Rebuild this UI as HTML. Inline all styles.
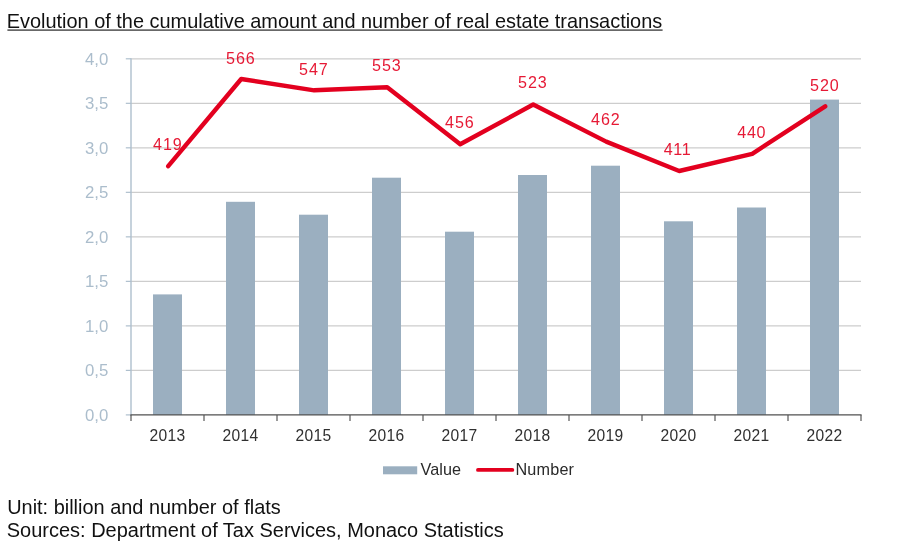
<!DOCTYPE html>
<html lang="en">
<head>
<meta charset="utf-8">
<title>Evolution of the cumulative amount and number of real estate transactions</title>
<style>
html,body{margin:0;padding:0;background:#fff;}
body{width:900px;height:560px;overflow:hidden;position:relative;font-family:"Liberation Sans",sans-serif;}
svg{position:absolute;left:0;top:0;display:block;}
text{font-family:"Liberation Sans",sans-serif;}
.ttl{font-size:19.93px;fill:#111;}
.yl{font-size:16.8px;fill:#abbdcc;}
.xl{font-size:15.6px;fill:#303030;}
.dl{font-size:16.1px;fill:#e3001f;fill-opacity:0.9;}
.lg{font-size:16.2px;fill:#2a2a2a;}
</style>
</head>
<body>
<svg width="900" height="560" viewBox="0 0 900 560">
<rect x="0" y="0" width="900" height="560" fill="#ffffff"/>
<text class="ttl" x="6.65" y="28.4">Evolution of the cumulative amount and number of real estate transactions</text>
<rect x="7.4" y="29.4" width="655.2" height="1.4" fill="#444"/>
<line x1="131.0" y1="370.39" x2="861.0" y2="370.39" stroke="#cdcdcd" stroke-width="1.25"/>
<line x1="131.0" y1="325.88" x2="861.0" y2="325.88" stroke="#cdcdcd" stroke-width="1.25"/>
<line x1="131.0" y1="281.36" x2="861.0" y2="281.36" stroke="#cdcdcd" stroke-width="1.25"/>
<line x1="131.0" y1="236.85" x2="861.0" y2="236.85" stroke="#cdcdcd" stroke-width="1.25"/>
<line x1="131.0" y1="192.34" x2="861.0" y2="192.34" stroke="#cdcdcd" stroke-width="1.25"/>
<line x1="131.0" y1="147.82" x2="861.0" y2="147.82" stroke="#cdcdcd" stroke-width="1.25"/>
<line x1="131.0" y1="103.31" x2="861.0" y2="103.31" stroke="#cdcdcd" stroke-width="1.25"/>
<line x1="131.0" y1="58.80" x2="861.0" y2="58.80" stroke="#cdcdcd" stroke-width="1.25"/>
<rect x="153.0" y="294.4" width="29" height="120.5" fill="#9bafc0"/>
<rect x="226.0" y="201.8" width="29" height="213.1" fill="#9bafc0"/>
<rect x="299.0" y="214.7" width="29" height="200.2" fill="#9bafc0"/>
<rect x="372.0" y="177.7" width="29" height="237.2" fill="#9bafc0"/>
<rect x="445.0" y="231.7" width="29" height="183.2" fill="#9bafc0"/>
<rect x="518.0" y="175.0" width="29" height="239.9" fill="#9bafc0"/>
<rect x="591.0" y="165.7" width="29" height="249.2" fill="#9bafc0"/>
<rect x="664.0" y="221.3" width="29" height="193.6" fill="#9bafc0"/>
<rect x="737.0" y="207.5" width="29" height="207.4" fill="#9bafc0"/>
<rect x="810.0" y="99.6" width="29" height="315.3" fill="#9bafc0"/>
<line x1="131.0" y1="58.199999999999996" x2="131.0" y2="415.4" stroke="#aebfcd" stroke-width="1.4"/>
<line x1="125.8" y1="414.90" x2="131.0" y2="414.90" stroke="#aebfcd" stroke-width="1.2"/>
<text class="yl" x="85" y="420.7" textLength="23.4" lengthAdjust="spacing">0,0</text>
<line x1="125.8" y1="370.39" x2="131.0" y2="370.39" stroke="#aebfcd" stroke-width="1.2"/>
<text class="yl" x="85" y="376.2" textLength="23.4" lengthAdjust="spacing">0,5</text>
<line x1="125.8" y1="325.88" x2="131.0" y2="325.88" stroke="#aebfcd" stroke-width="1.2"/>
<text class="yl" x="85" y="331.7" textLength="23.4" lengthAdjust="spacing">1,0</text>
<line x1="125.8" y1="281.36" x2="131.0" y2="281.36" stroke="#aebfcd" stroke-width="1.2"/>
<text class="yl" x="85" y="287.2" textLength="23.4" lengthAdjust="spacing">1,5</text>
<line x1="125.8" y1="236.85" x2="131.0" y2="236.85" stroke="#aebfcd" stroke-width="1.2"/>
<text class="yl" x="85" y="242.7" textLength="23.4" lengthAdjust="spacing">2,0</text>
<line x1="125.8" y1="192.34" x2="131.0" y2="192.34" stroke="#aebfcd" stroke-width="1.2"/>
<text class="yl" x="85" y="198.1" textLength="23.4" lengthAdjust="spacing">2,5</text>
<line x1="125.8" y1="147.82" x2="131.0" y2="147.82" stroke="#aebfcd" stroke-width="1.2"/>
<text class="yl" x="85" y="153.6" textLength="23.4" lengthAdjust="spacing">3,0</text>
<line x1="125.8" y1="103.31" x2="131.0" y2="103.31" stroke="#aebfcd" stroke-width="1.2"/>
<text class="yl" x="85" y="109.1" textLength="23.4" lengthAdjust="spacing">3,5</text>
<line x1="125.8" y1="58.80" x2="131.0" y2="58.80" stroke="#aebfcd" stroke-width="1.2"/>
<text class="yl" x="85" y="64.6" textLength="23.4" lengthAdjust="spacing">4,0</text>
<line x1="130.4" y1="414.9" x2="861.6" y2="414.9" stroke="#505050" stroke-width="1.25"/>
<line x1="131.0" y1="414.9" x2="131.0" y2="420.9" stroke="#505050" stroke-width="1.15"/>
<line x1="204.0" y1="414.9" x2="204.0" y2="420.9" stroke="#505050" stroke-width="1.15"/>
<line x1="277.0" y1="414.9" x2="277.0" y2="420.9" stroke="#505050" stroke-width="1.15"/>
<line x1="350.0" y1="414.9" x2="350.0" y2="420.9" stroke="#505050" stroke-width="1.15"/>
<line x1="423.0" y1="414.9" x2="423.0" y2="420.9" stroke="#505050" stroke-width="1.15"/>
<line x1="496.0" y1="414.9" x2="496.0" y2="420.9" stroke="#505050" stroke-width="1.15"/>
<line x1="569.0" y1="414.9" x2="569.0" y2="420.9" stroke="#505050" stroke-width="1.15"/>
<line x1="642.0" y1="414.9" x2="642.0" y2="420.9" stroke="#505050" stroke-width="1.15"/>
<line x1="715.0" y1="414.9" x2="715.0" y2="420.9" stroke="#505050" stroke-width="1.15"/>
<line x1="788.0" y1="414.9" x2="788.0" y2="420.9" stroke="#505050" stroke-width="1.15"/>
<line x1="861.0" y1="414.9" x2="861.0" y2="420.9" stroke="#505050" stroke-width="1.15"/>
<text class="xl" x="149.5" y="440.7" textLength="35.6" lengthAdjust="spacing">2013</text>
<text class="xl" x="222.5" y="440.7" textLength="35.6" lengthAdjust="spacing">2014</text>
<text class="xl" x="295.5" y="440.7" textLength="35.6" lengthAdjust="spacing">2015</text>
<text class="xl" x="368.5" y="440.7" textLength="35.6" lengthAdjust="spacing">2016</text>
<text class="xl" x="441.5" y="440.7" textLength="35.6" lengthAdjust="spacing">2017</text>
<text class="xl" x="514.5" y="440.7" textLength="35.6" lengthAdjust="spacing">2018</text>
<text class="xl" x="587.5" y="440.7" textLength="35.6" lengthAdjust="spacing">2019</text>
<text class="xl" x="660.5" y="440.7" textLength="35.6" lengthAdjust="spacing">2020</text>
<text class="xl" x="733.5" y="440.7" textLength="35.6" lengthAdjust="spacing">2021</text>
<text class="xl" x="806.5" y="440.7" textLength="35.6" lengthAdjust="spacing">2022</text>
<polyline points="168.2,166.2 241.2,79.0 314.2,90.3 387.2,87.2 460.2,144.3 533.2,104.5 606.2,141.6 679.2,171.0 752.2,153.8 825.2,106.3" fill="none" stroke="#e3001f" stroke-width="4.4" stroke-linecap="round" stroke-linejoin="round"/>
<text class="dl" x="153.0" y="149.8" textLength="28.8" lengthAdjust="spacing">419</text>
<text class="dl" x="226.0" y="63.7" textLength="28.8" lengthAdjust="spacing">566</text>
<text class="dl" x="299.0" y="74.6" textLength="28.8" lengthAdjust="spacing">547</text>
<text class="dl" x="372.0" y="71.2" textLength="28.8" lengthAdjust="spacing">553</text>
<text class="dl" x="445.0" y="128.3" textLength="28.8" lengthAdjust="spacing">456</text>
<text class="dl" x="518.0" y="88.3" textLength="28.8" lengthAdjust="spacing">523</text>
<text class="dl" x="591.0" y="125.2" textLength="28.8" lengthAdjust="spacing">462</text>
<text class="dl" x="663.7" y="155.3" textLength="27.0" lengthAdjust="spacing">411</text>
<text class="dl" x="737.3" y="137.7" textLength="28.2" lengthAdjust="spacing">440</text>
<text class="dl" x="810.0" y="91.1" textLength="28.8" lengthAdjust="spacing">520</text>
<rect x="383" y="466.3" width="34.2" height="8" fill="#9bafc0"/>
<text class="lg" x="420.6" y="474.8" textLength="40.4" lengthAdjust="spacing">Value</text>
<line x1="478" y1="469.9" x2="512.3" y2="469.9" stroke="#e3001f" stroke-width="3.9" stroke-linecap="round"/>
<text class="lg" x="515.4" y="474.8" textLength="58.6" lengthAdjust="spacing">Number</text>
<text class="ttl" x="7.2" y="514.3">Unit: billion and number of flats</text>
<text class="ttl" style="font-size:19.98px" x="6.8" y="536.7">Sources: Department of Tax Services, Monaco Statistics</text>
</svg>
</body>
</html>
